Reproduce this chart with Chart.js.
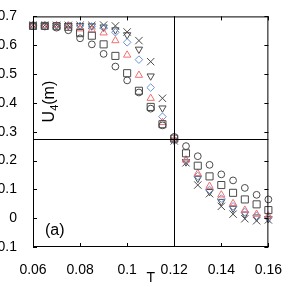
<!DOCTYPE html>
<html>
<head>
<meta charset="utf-8">
<script src="https://cdn.jsdelivr.net/npm/chart.js@4.4.1/dist/chart.umd.min.js"></script>
<style>
  html, body { margin: 0; padding: 0; background: #fff; }
  #wrap { width: 289px; height: 287px; }
</style>
</head>
<body>
<div id="wrap"><canvas id="u4chart"></canvas></div>
<script>
// temperatures
const temps = [0.06,0.065,0.07,0.075,0.08,0.085,0.09,0.095,0.1,0.105,0.11,0.115,0.12,0.125,0.13,0.135,0.14,0.145,0.15,0.155,0.16];

// U4 for each marker (smallest size -> largest)
const circles  = [0.666,0.665,0.661,0.652,0.624,0.603,0.570,0.526,0.478,0.436,0.380,0.322,0.282,0.250,0.215,0.185,0.152,0.131,0.105,0.081,0.065];
const squares  = [0.667,0.667,0.666,0.664,0.642,0.633,0.603,0.563,0.503,0.442,0.386,0.326,0.276,0.225,0.182,0.145,0.115,0.088,0.065,0.048,0.028];
const triUp    = [0.668,0.668,0.668,0.667,0.657,0.653,0.643,0.616,0.566,0.496,0.416,0.332,0.272,0.202,0.155,0.111,0.081,0.051,0.028,0.014,0.008];
const diamonds = [0.669,0.669,0.669,0.668,0.667,0.665,0.660,0.645,0.610,0.550,0.453,0.352,0.270,0.198,0.146,0.098,0.068,0.041,0.021,0.008,0.001];
const triDown  = [0.669,0.669,0.669,0.668,0.668,0.667,0.663,0.653,0.636,0.586,0.493,0.382,0.270,0.195,0.138,0.092,0.058,0.034,0.014,0.004,-0.002];
const crosses  = [0.669,0.669,0.669,0.669,0.669,0.669,0.670,0.667,0.646,0.616,0.543,0.416,0.268,0.192,0.115,0.085,0.041,0.014,-0.002,-0.009,-0.006];

const xTicks = [0.06,0.08,0.1,0.12,0.14,0.16];
const yTicks = [-0.1,0,0.1,0.2,0.3,0.4,0.5,0.6,0.7];
const crossT = 0.12;
const crossU = 0.275;

const font = '"Liberation Sans", Arial, sans-serif';

function pts(arr) {
  return arr.map((v, i) => ({ x: temps[i], y: v }));
}

function ds(arr, style, color, r, rot) {
  return {
    data: pts(arr),
    showLine: false,
    pointStyle: style,
    pointRadius: r,
    pointHoverRadius: r,
    pointRotation: rot || 0,
    pointBorderWidth: 1,
    pointBorderColor: color,
    pointBackgroundColor: 'rgba(0,0,0,0)',
    clip: false
  };
}

// frame, inward ticks on all sides, the two guide lines and the inner texts
const framePlugin = {
  id: 'frame',
  afterDatasetsDraw(chart) {
    const { ctx, chartArea: a, scales } = chart;
    const xs = scales.x, ys = scales.y;
    ctx.save();
    ctx.strokeStyle = '#000';
    ctx.lineWidth = 1;
    ctx.strokeRect(a.left + 0.5, a.top + 0.5, a.right - a.left - 1, a.bottom - a.top - 1);
    ctx.beginPath();
    xTicks.forEach(t => {
      const px = Math.round(xs.getPixelForValue(t)) + 0.5;
      ctx.moveTo(px, a.bottom); ctx.lineTo(px, a.bottom - 4);
      ctx.moveTo(px, a.top); ctx.lineTo(px, a.top + 4);
    });
    yTicks.forEach(t => {
      const py = Math.round(ys.getPixelForValue(t)) + 0.5;
      ctx.moveTo(a.left, py); ctx.lineTo(a.left + 4, py);
      ctx.moveTo(a.right, py); ctx.lineTo(a.right - 4, py);
    });
    // guide lines
    const vx = Math.round(xs.getPixelForValue(crossT)) + 0.5;
    const hy = Math.round(ys.getPixelForValue(crossU)) + 0.5;
    ctx.moveTo(vx, a.top); ctx.lineTo(vx, a.bottom);
    ctx.moveTo(a.left, hy); ctx.lineTo(a.right, hy);
    ctx.stroke();

    ctx.fillStyle = '#000';
    ctx.font = '16px ' + font;
    ctx.textBaseline = 'alphabetic';
    ctx.textAlign = 'left';
    ctx.fillText('(a)', a.left + 12, a.bottom - 12);

    // y title inside the frame, rotated
    ctx.translate(a.left + 17, a.top + 106);
    ctx.rotate(-Math.PI / 2);
    ctx.textBaseline = 'middle';
    ctx.font = '16px ' + font;
    ctx.fillText('U', 0, 0);
    let w = ctx.measureText('U').width;
    ctx.font = '11px ' + font;
    ctx.fillText('4', w, 5);
    w += ctx.measureText('4').width;
    ctx.font = '16px ' + font;
    ctx.fillText('(m)', w, 0);
    ctx.restore();
  }
};

new Chart(document.getElementById('u4chart'), {
  type: 'scatter',
  data: {
    datasets: [
      ds(circles, 'circle', '#4a4a4a', 3.4),
      ds(squares, 'rect', '#4a4a4a', 5),
      ds(triUp, 'triangle', '#f07070', 4.2),
      ds(diamonds, 'rectRot', '#6a92d8', 3.8),
      ds(triDown, 'triangle', '#4a4a4a', 4.2, 180),
      ds(crosses, 'crossRot', '#4a4a4a', 5.2)
    ]
  },
  plugins: [framePlugin],
  options: {
    responsive: true,
    maintainAspectRatio: false,
    animation: false,
    events: [],
    layout: { padding: { top: 8, right: 16, left: 0, bottom: 0 } },
    plugins: { legend: { display: false }, tooltip: { enabled: false } },
    scales: {
      x: {
        type: 'linear',
        min: 0.06, max: 0.16,
        afterFit: s => { s.height = 40; },
        afterBuildTicks: s => { s.ticks = xTicks.map(v => ({ value: v })); },
        grid: { display: false },
        border: { display: false },
        ticks: {
          color: '#000',
          padding: 7,
          maxRotation: 0,
          font: { family: font, size: 14 },
          callback: v => String(Math.round(v * 100) / 100)
        },
        title: {
          display: true, text: 'T', color: '#000',
          padding: { top: -5, bottom: 0 },
          font: { family: font, size: 14 }
        }
      },
      y: {
        type: 'linear',
        min: -0.1, max: 0.7,
        afterFit: s => { s.width = 33; },
        afterBuildTicks: s => { s.ticks = yTicks.map(v => ({ value: v })); },
        grid: { display: false },
        border: { display: false },
        ticks: {
          color: '#000',
          padding: 8,
          font: { family: font, size: 14 },
          callback: v => String(Math.round(v * 10) / 10)
        }
      }
    }
  }
});
</script>
</body>
</html>
